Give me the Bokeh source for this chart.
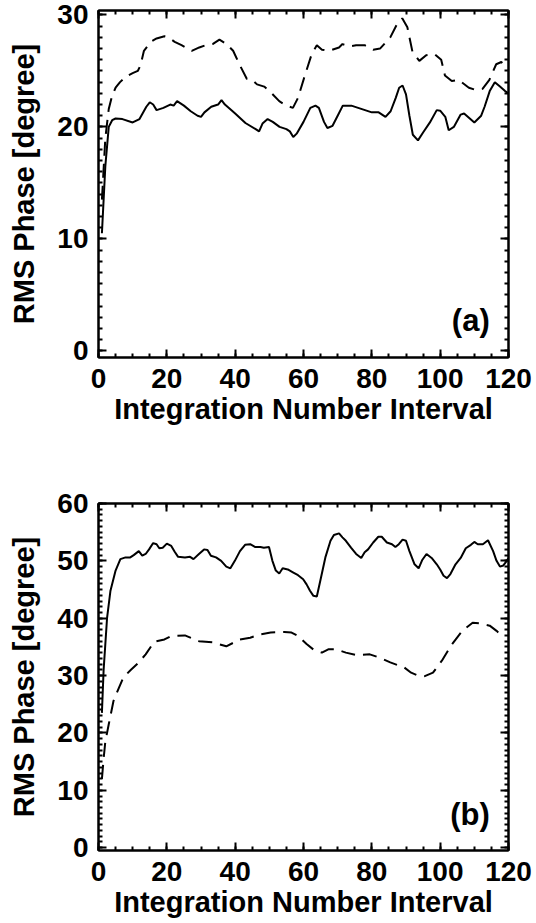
from bokeh.plotting import figure
from bokeh.layouts import column
from bokeh.models import (Range1d, LinearAxis, SingleIntervalTicker, Label,
                          CustomJSTickFormatter)
from bokeh.embed import file_html
from bokeh.resources import INLINE

# Panel (a): RMS phase versus integration number interval
a_solid_x = [1, 2, 3, 4, 5, 7, 10, 12, 14, 15, 16, 17, 19, 21, 22, 23, 25, 27, 29, 30,
             31, 33, 35, 36, 37, 40, 43, 46, 47, 48, 49.5, 51, 53, 55, 56, 57, 58, 60,
             62, 63.5, 64.5, 66, 67, 68.5, 70, 71.5, 74, 76, 78, 80, 82, 84, 85.5, 87,
             88, 89, 90, 91, 92, 93.5, 95, 97, 99, 100, 101.5, 102.5, 104, 106, 107,
             108.5, 110, 112, 113, 114.5, 116, 117.5, 119, 120]
a_solid_y = [10.5, 16.5, 20.0, 20.6, 20.75, 20.7, 20.4, 20.7, 21.8, 22.2, 22.0, 21.5,
             21.7, 22.0, 21.9, 22.3, 21.9, 21.4, 21.0, 20.9, 21.3, 21.8, 22.0, 22.4,
             22.0, 21.2, 20.35, 19.8, 19.6, 20.3, 20.7, 20.45, 20.0, 19.8, 19.6, 19.1,
             19.4, 20.45, 21.7, 21.9, 21.7, 20.45, 19.9, 20.1, 21.0, 21.9, 21.9, 21.7,
             21.5, 21.3, 21.3, 20.9, 21.4, 22.6, 23.5, 23.7, 22.9, 21.0, 19.3, 18.8,
             19.5, 20.4, 21.5, 21.45, 20.9, 19.7, 20.0, 21.1, 21.2, 20.8, 20.4, 21.0,
             21.8, 23.2, 24.0, 23.6, 23.2, 23.0]

a_dash_x = [1, 2, 3, 4, 5, 6.3, 8, 10, 11.5, 12.3, 13.3, 15.3, 17, 19.3, 20.5, 22.3,
            24.3, 27.3, 29.5, 31.4, 33.4, 35.4, 37.5, 39.4, 41.4, 43.4, 45, 46.4, 48.5,
            50.4, 52.9, 55, 56.9, 58.4, 60.4, 62.4, 63.9, 65.4, 67.5, 70.4, 71.4, 73.5,
            75.4, 77.9, 80.4, 82.4, 85.4, 87.4, 88.9, 90.4, 91.9, 93.9, 95.9, 98.4,
            100.3, 101.4, 103.4, 105.4, 108.4, 110.4, 112.4, 114.4, 116.4, 117.9, 119]
a_dash_y = [13.5, 19.0, 21.6, 22.8, 23.5, 24.0, 24.5, 24.8, 25.0, 25.5, 26.8, 27.6, 27.9,
            28.1, 28.0, 27.6, 27.3, 26.8, 27.1, 27.3, 27.4, 27.8, 27.4, 26.8, 25.5, 24.3,
            24.2, 23.8, 23.6, 23.1, 22.3, 21.9, 21.7, 22.6, 24.6, 26.5, 27.3, 26.9, 26.8,
            27.1, 27.4, 27.2, 27.3, 27.3, 26.9, 27.0, 28.0, 29.2, 29.7, 28.9, 26.7, 25.9,
            26.4, 26.5, 26.0, 24.6, 24.1, 24.2, 23.5, 23.3, 23.4, 24.2, 25.6, 25.8, 25.4]

# Panel (b)
b_solid_x = [1, 1.5, 2.5, 3.5, 5, 6.4, 7.9, 9.3, 10.3, 11.8, 12.8, 13.8, 14.8, 16.0, 17.0,
             17.8, 18.8, 20.0, 21.3, 22.3, 23.3, 25.3, 26.8, 27.8, 29.4, 30.9, 31.9, 32.9,
             34.4, 35.9, 37.4, 38.6, 39.9, 41.4, 42.9, 44.4, 45.9, 47.4, 48.4, 49.9, 50.9,
             51.9, 52.9, 53.9, 55.4, 56.9, 58.4, 59.9, 60.9, 61.9, 62.9, 63.9, 64.9, 66.4,
             67.9, 68.9, 70.4, 71.4, 72.4, 73.9, 75.4, 76.9, 77.9, 78.9, 80.4, 81.9, 82.9,
             84.4, 85.9, 86.9, 87.9, 89.0, 90.0, 91.0, 92.5, 93.7, 94.7, 96.0, 97.5, 99.0,
             100.0, 101.0, 102.0, 103.0, 104.5, 106.0, 107.5, 109.0, 110.0, 111.0, 112.5,
             114.0, 115.5, 116.5, 117.5, 118.5, 119.5, 120]
b_solid_y = [23.5, 31.0, 40.0, 44.8, 48.3, 50.3, 50.6, 50.6, 51.0, 51.7, 50.9, 51.2, 52.0,
             53.1, 52.9, 52.2, 52.3, 53.0, 52.6, 51.6, 50.7, 50.6, 50.7, 50.3, 51.2, 52.0,
             51.9, 50.9, 50.6, 50.0, 49.0, 48.7, 50.0, 51.7, 52.8, 52.9, 52.4, 52.4, 52.3,
             52.4, 50.0, 48.3, 47.8, 48.7, 48.5, 48.0, 47.5, 46.8, 45.9, 44.8, 43.9, 43.8,
             46.5, 50.6, 53.5, 54.5, 54.8, 54.1, 53.5, 52.3, 51.2, 50.5, 51.5, 52.0, 53.2,
             54.2, 54.2, 53.2, 52.9, 52.4, 52.9, 53.7, 53.5, 51.7, 49.4, 48.7, 50.1, 51.2,
             50.5, 49.4, 48.5, 47.4, 47.0, 47.7, 49.4, 50.5, 52.2, 52.8, 53.3, 52.9, 52.9,
             53.6, 51.7, 50.0, 49.0, 49.2, 50.0, 50.5]

b_dash_x = [1, 1.5, 2, 3, 4.4, 6, 7.3, 9.5, 11.8, 13.8, 16.3, 19.3, 21.3, 25.3, 29.4,
            33.4, 37.4, 41.4, 44.4, 47.5, 50.4, 54.4, 56.5, 58.4, 60.9, 63, 65.4, 67.4,
            69.4, 72.4, 75.4, 79.4, 82.4, 85.4, 89.5, 91.5, 93.5, 95.5, 97.9, 100.5,
            103.5, 106.5, 109.5, 111.5, 114.5, 116.5, 118]
b_dash_y = [12.0, 15.5, 18.5, 21.5, 25.6, 27.9, 29.7, 31.0, 32.3, 33.7, 35.9, 36.3, 36.9,
            37.0, 36.0, 35.8, 35.1, 36.3, 36.6, 37.2, 37.5, 37.6, 37.5, 36.9, 35.5, 34.5,
            34.0, 34.6, 34.6, 34.0, 33.6, 33.7, 33.1, 32.3, 31.4, 30.5, 30.0, 29.9, 30.5,
            32.6, 35.5, 37.8, 39.2, 39.1, 38.7, 37.8, 37.0]

X_RANGE = (0, 120)
X_TICKS = 20
Y_TICKS = 10

FONT = "Liberation Sans"
TICK_SIZE = "28px"
LABEL_SIZE = "29px"
TAG_SIZE = "31px"


def style_axis(ax, labels=True):
    ax.axis_line_width = 2
    ax.axis_line_color = "black"
    ax.major_tick_in = 8
    ax.major_tick_out = 0
    ax.minor_tick_in = 4
    ax.minor_tick_out = 0
    ax.major_tick_line_width = 2
    ax.minor_tick_line_width = 2
    ax.major_tick_line_color = "black"
    ax.minor_tick_line_color = "black"
    if labels:
        ax.major_label_text_font = FONT
        ax.major_label_text_font_style = "bold"
        ax.major_label_text_font_size = TICK_SIZE
        ax.major_label_text_color = "black"
        ax.axis_label_text_font = FONT
        ax.axis_label_text_font_style = "bold"
        ax.axis_label_text_font_size = LABEL_SIZE
        ax.axis_label_text_color = "black"
    else:
        # mirrored tick marks only, no numbers
        ax.formatter = CustomJSTickFormatter(code="return ''")
        ax.major_label_standoff = 0


def panel(xs_solid, ys_solid, xs_dash, ys_dash, y_range, tag, tag_y,
          height, border_top, border_bottom):
    p = figure(width=536, height=height, output_backend="svg", toolbar_location=None,
               x_range=Range1d(*X_RANGE), y_range=Range1d(*y_range),
               min_border_left=98, min_border_right=28,
               min_border_top=border_top, min_border_bottom=border_bottom,
               background_fill_color="white", border_fill_color="white")
    p.outline_line_color = "black"
    p.outline_line_width = 2
    p.xgrid.visible = False
    p.ygrid.visible = False

    p.xaxis.ticker = SingleIntervalTicker(interval=X_TICKS, num_minor_ticks=4)
    p.yaxis.ticker = SingleIntervalTicker(interval=Y_TICKS, num_minor_ticks=10)
    p.xaxis.axis_label = "Integration Number Interval"
    p.yaxis.axis_label = "RMS Phase [degree]"
    for ax in p.xaxis + p.yaxis:
        style_axis(ax)
    p.xaxis.major_label_standoff = 11
    p.xaxis.axis_label_standoff = 2
    p.yaxis.major_label_standoff = 10
    p.yaxis.axis_label_standoff = 14

    top = LinearAxis(ticker=SingleIntervalTicker(interval=X_TICKS, num_minor_ticks=4))
    right = LinearAxis(ticker=SingleIntervalTicker(interval=Y_TICKS, num_minor_ticks=10))
    style_axis(top, labels=False)
    style_axis(right, labels=False)
    p.add_layout(top, "above")
    p.add_layout(right, "right")

    p.line(xs_solid, ys_solid, line_color="black", line_width=2)
    p.line(xs_dash, ys_dash, line_color="black", line_width=2, line_dash="14 8")

    p.add_layout(Label(x=114.5, y=tag_y, text=tag, text_align="right",
                       text_baseline="alphabetic", text_font=FONT,
                       text_font_style="bold", text_font_size=TAG_SIZE,
                       text_color="black"))
    return p


p1 = panel(a_solid_x, a_solid_y, a_dash_x, a_dash_y, (-0.6, 30.4), "(a)", 2.7,
           462, 10, 105)
p2 = panel(b_solid_x, b_solid_y, b_dash_x, b_dash_y, (-0.5, 60), "(b)", 5.7,
           461, 41, 73)

layout = column(p1, p2, spacing=0)

with open("out.html", "w") as f:
    f.write(file_html(layout, INLINE))
